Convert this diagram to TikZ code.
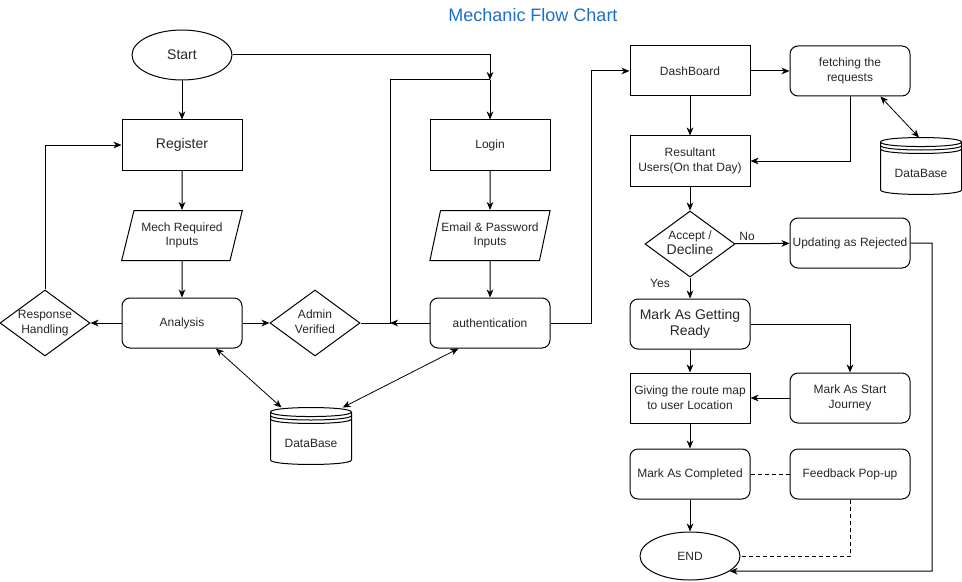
\documentclass[tikz,border=0pt]{standalone}
\usepackage{fontspec}
\setmainfont{Liberation Sans}
\usepackage{tikz}
\usetikzlibrary{arrows.meta,shapes.geometric}

\definecolor{titleblue}{RGB}{32,110,204}
\newcommand{\txtsm}{\fontsize{9}{11}\selectfont}
\newcommand{\txtlg}{\fontsize{10.5}{12.5}\selectfont}
% text of a decision, kept out of the diamond's size
\newcommand{\dtext}[1]{\makebox[0pt]{\begin{tabular}{@{}c@{}}#1\end{tabular}}}
% database drum round a named node
\newcommand{\storeshape}[1]{%
  \draw ([yshift=-3.4pt]#1.north west)
    .. controls +(0,4.5pt) and +(0,4.5pt) .. ([yshift=-3.4pt]#1.north east)
    -- ([yshift=3.4pt]#1.south east)
    .. controls +(0,-4.5pt) and +(0,-4.5pt) .. ([yshift=3.4pt]#1.south west)
    -- cycle;
  \foreach \off in {3.4pt,6pt,8.6pt}
    \draw ([yshift=-\off]#1.north west)
      .. controls +(0,-4.5pt) and +(0,-4.5pt) .. ([yshift=-\off]#1.north east);
}

\begin{document}
\begin{tikzpicture}[x=0.75pt,y=-0.75pt,line width=0.75pt,
  every node/.style={text=black!85,font=\txtsm},
  proc/.style={draw,rectangle,minimum width=90pt,minimum height=37.5pt,align=center,inner sep=1pt},
  rproc/.style={proc,rounded corners=6pt},
  io/.style={draw,trapezium,trapezium left angle=68,trapezium right angle=112,
    trapezium stretches=true,minimum width=90.75pt,minimum height=37.5pt,inner sep=0pt},
  decision/.style={draw,diamond,minimum width=67.5pt,minimum height=49.5pt,inner sep=0pt},
  term/.style={draw,ellipse,minimum width=75pt,minimum height=37.5pt,inner sep=0pt},
  datastore/.style={minimum width=60pt,minimum height=42pt,inner sep=0pt},
  arr/.style={-{Stealth[length=6pt,width=5pt,inset=1.8pt]}},
  dbarr/.style={{Stealth[length=6pt,width=5pt,inset=1.8pt]}-{Stealth[length=6pt,width=5pt,inset=1.8pt]}},
  dash line/.style={dash pattern=on 3pt off 2.25pt}]
  \useasboundingbox (0,0) rectangle (962,581);

  \node[text=titleblue,font=\fontsize{13.5}{16}\selectfont] (title) at (533,15) {Mechanic Flow Chart};

  % mechanic sign up
  \node[term,font=\txtlg] (start) at (182,55) {Start};
  \node[proc,font=\txtlg] (reg) at (182,145) {Register};
  \node[io,align=center] (mech) at (182,235.5) {Mech Required\\Inputs};
  \node[rproc] (analysis) at (182,323) {Analysis};
  \node[decision] (resp) at (45,323) {\dtext{Response\\Handling}};
  \node[decision] (admin) at (315,323) {\dtext{Admin\\Verified}};
  \node[datastore] (db-1) at (311,436) {\raisebox{-8.5pt}[0pt][0pt]{DataBase}};
  \storeshape{db-1}

  % mechanic login
  \node[proc] (login) at (490,145) {Login};
  \node[io,align=center] (email) at (490,235.5) {Email \& Password\\Inputs};
  \node[rproc] (auth) at (490,323) {authentication};

  % requests
  \node[proc] (dash) at (690,71) {DashBoard};
  \node[rproc] (fetch) at (850,71) {fetching the\\requests};
  \node[proc] (result) at (690,161) {Resultant\\Users(On that Day)};
  \node[datastore] (db-2) at (921,166) {\raisebox{-8.5pt}[0pt][0pt]{DataBase}};
  \storeshape{db-2}
  \node[decision] (accept) at (690,244) {\dtext{Accept /\\\txtlg Decline}};
  \node[rproc] (reject) at (850,243) {Updating as Rejected};
  \node[rproc,font=\txtlg] (ready) at (690,324) {Mark As Getting\\Ready};
  \node[rproc] (journey) at (850,398) {Mark As Start\\Journey};
  \node[proc] (route) at (690,398) {Giving the route map\\to user Location};
  \node[rproc] (done) at (690,474) {Mark As Completed};
  \node[rproc] (feedback) at (850,474) {Feedback Pop-up};
  \node[term,minimum height=36pt] (end) at (690,556) {END};
  \node (no) at (747,236) {No};
  \node (yes) at (660,283) {Yes};

  \coordinate (j-1) at (490,80);
  \coordinate (j-2) at (390,323);
  \coordinate (j-3) at (591,323);
  \coordinate (j-4) at (932,571);

  \draw[arr] (start) -| (j-1);
  \draw[arr] (j-1) -- (login);
  \draw[arr] (start) -- (reg);
  \draw[arr] (reg) -- (mech);
  \draw[arr] (mech) -- (analysis);
  \draw[arr] (analysis) -- (resp);
  \draw[arr] (resp) |- (reg);
  \draw[arr] (analysis) -- (admin);
  \draw (admin) -- (j-2) |- (j-1);
  \draw[arr] (auth) -- (j-2);
  \draw[arr] (login) -- (email);
  \draw[arr] (email) -- (auth);
  \draw[dbarr,line width=0.6pt] (analysis.-37) -- (db-1.136);
  \draw[dbarr,line width=0.6pt] (auth.219) -- (db-1.42);
  \draw[arr] (auth) -- (j-3) |- (dash);
  \draw[arr] (dash) -- (fetch);
  \draw[arr] (dash) -- (result);
  \draw[arr] (fetch) |- (result);
  \draw[dbarr,line width=0.6pt] (fetch.-40) -- (db-2.94);
  \draw[arr] (result) -- (accept);
  \draw[arr] (accept) -- (reject);
  \draw[arr] (accept) -- (ready);
  \draw[arr] (reject) -| (j-4) -- (end.-21);
  \draw[arr] (ready) -| (journey);
  \draw[arr] (ready) -- (route);
  \draw[arr] (journey) -- (route);
  \draw[arr] (route) -- (done);
  \draw[arr] (done) -- (end);
  \draw[dash line] (done) -- (feedback);
  \draw[dash line] (feedback) |- (end);
\end{tikzpicture}
\end{document}
